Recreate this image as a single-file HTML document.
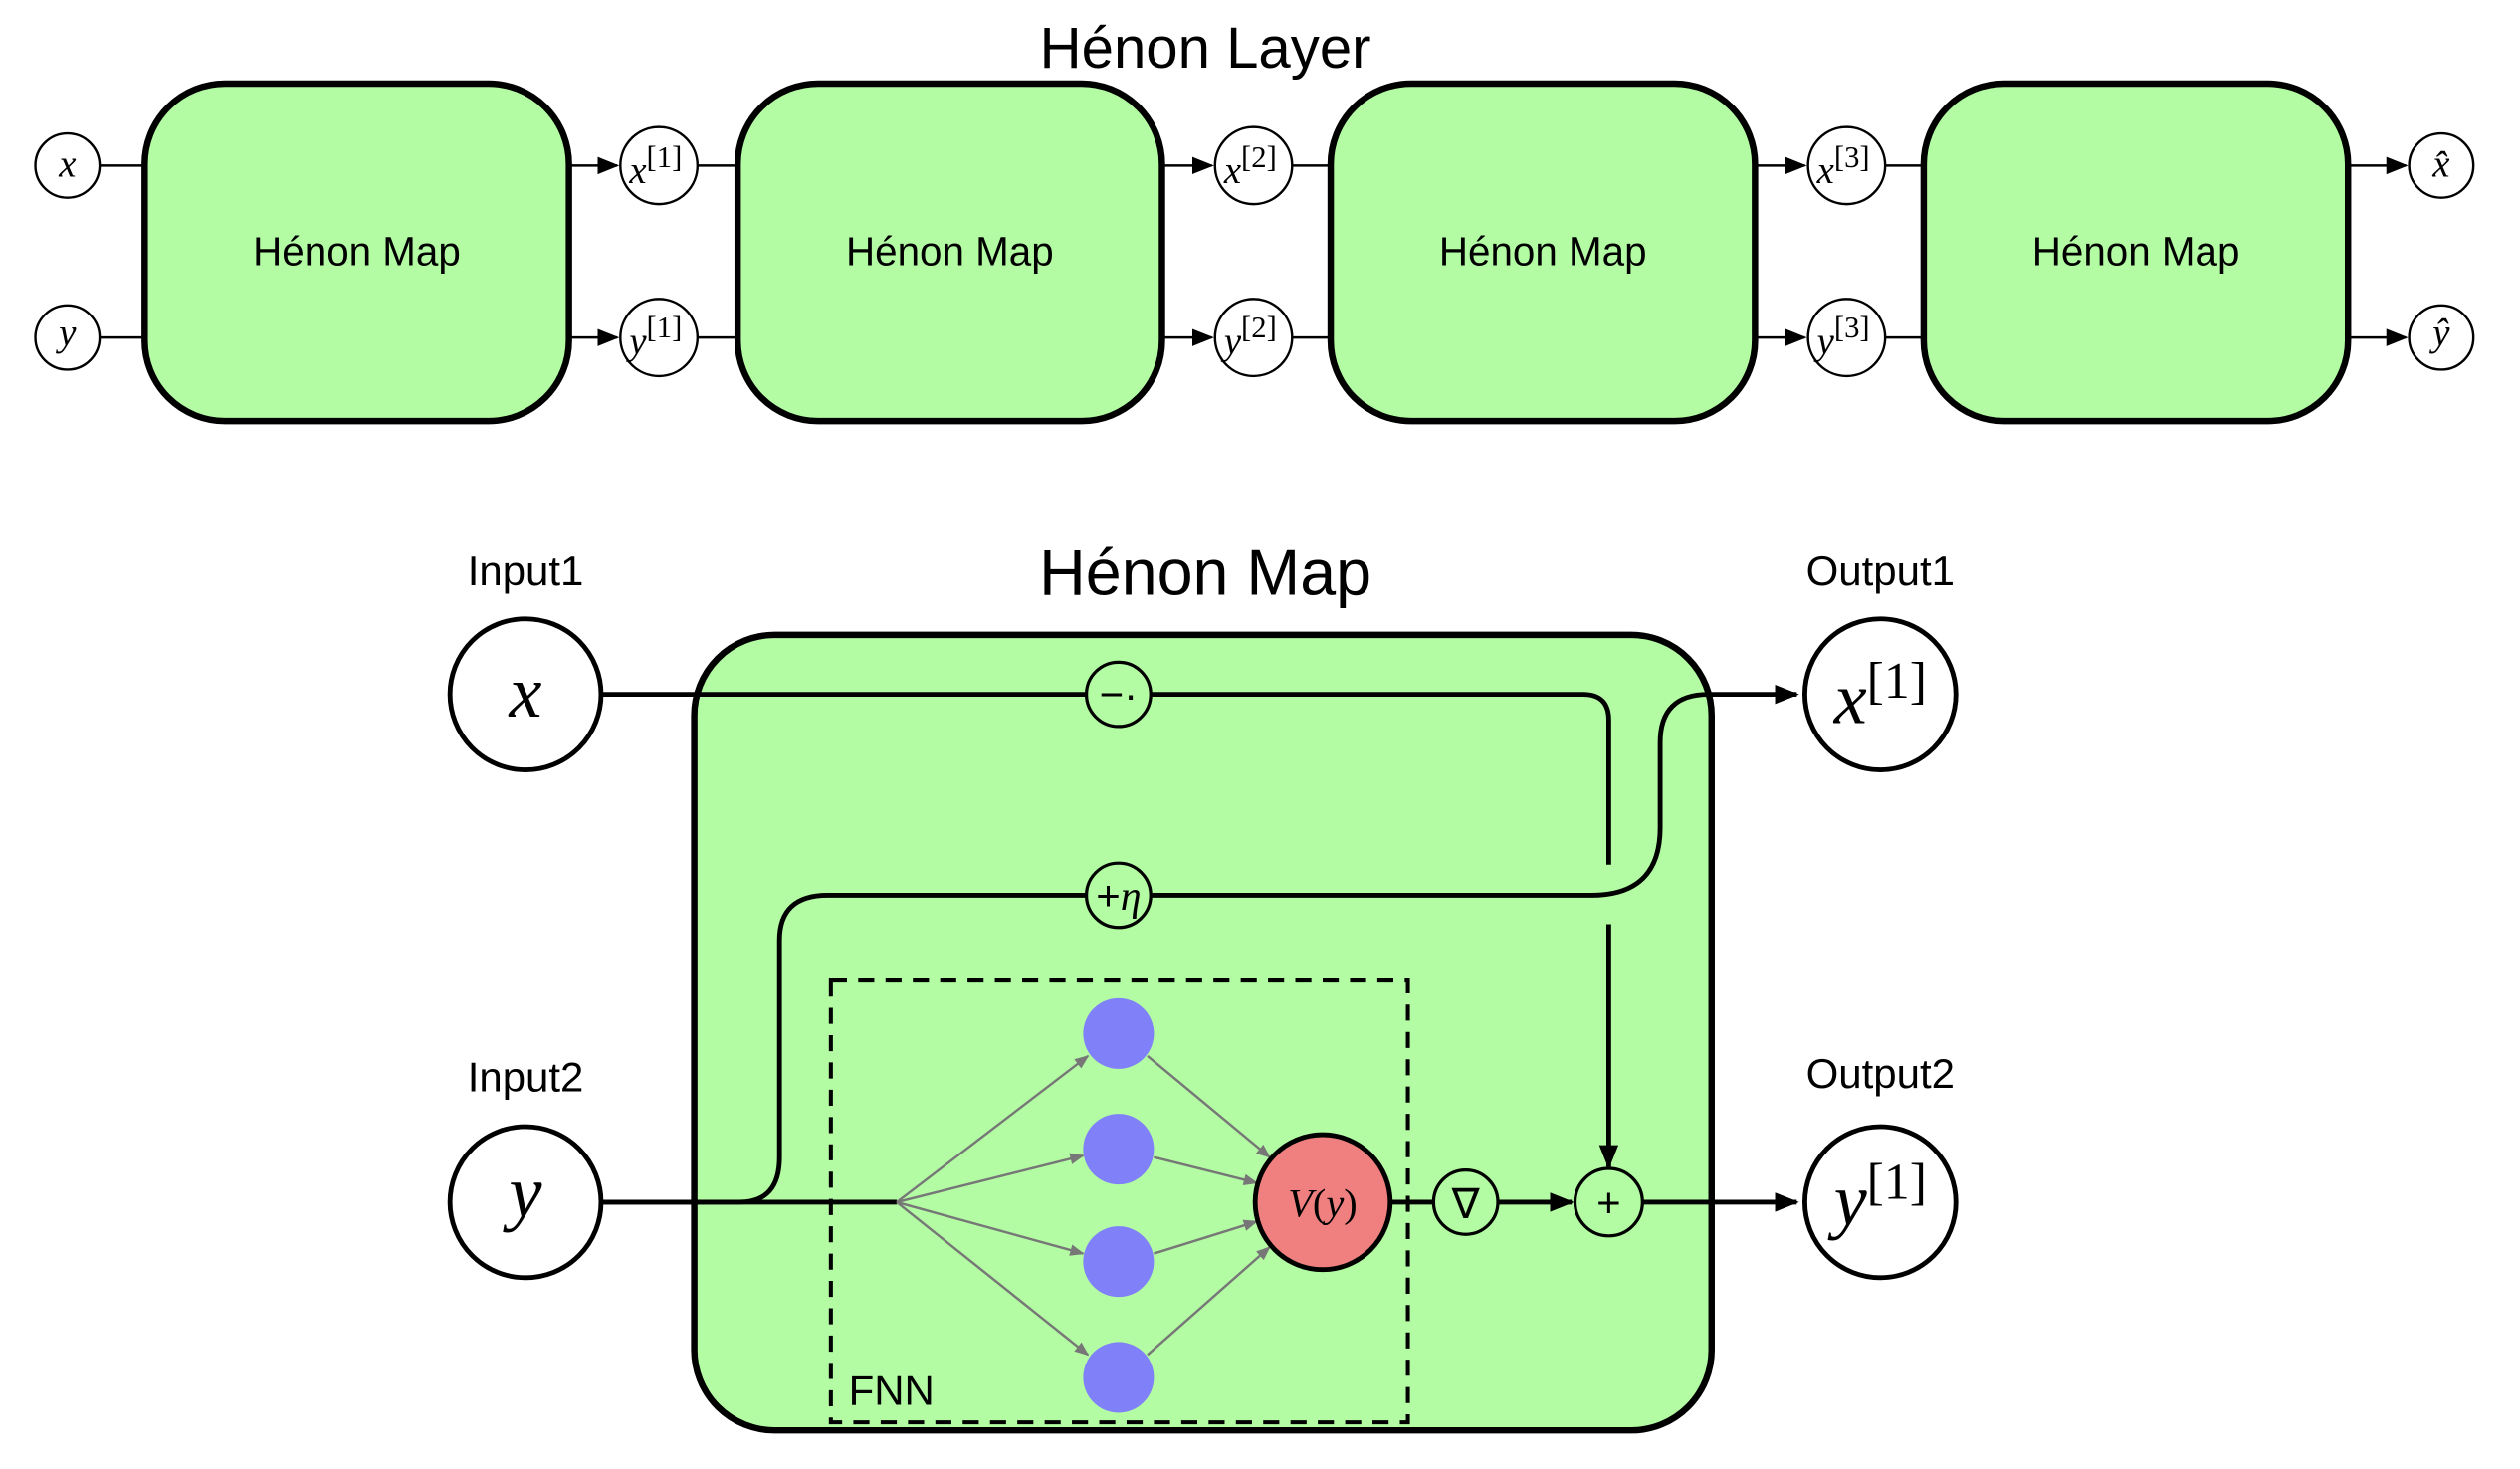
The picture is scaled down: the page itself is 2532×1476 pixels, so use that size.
<!DOCTYPE html>
<html><head><meta charset="utf-8"><style>
html,body{margin:0;padding:0;background:#fff}
svg{display:block}
text{font-family:"Liberation Sans",sans-serif}
.m{font-family:"Liberation Serif",serif;font-style:italic}
</style></head><body>
<svg width="2532" height="1476" viewBox="0 0 1568 914">
<defs>
<marker id="ar" viewBox="0 0 10 10" refX="9" refY="5" markerWidth="5" markerHeight="5" orient="auto"><path d="M0,1 L10,5 L0,9 z" fill="#000"/></marker>
<marker id="as" viewBox="0 0 10 10" refX="9" refY="5" markerWidth="9" markerHeight="9" orient="auto"><path d="M0,1 L10,5 L0,9 z" fill="#000"/></marker>
<marker id="ag" viewBox="0 0 10 10" refX="9" refY="5" markerWidth="6" markerHeight="6" orient="auto"><path d="M0,1 L10,5 L0,9 z" fill="#777"/></marker>
</defs>
<text x="750" y="42" font-size="36" text-anchor="middle">Hénon Layer</text>
<g stroke="#000" stroke-width="1.5" fill="none">
<line x1="62" y1="103" x2="90" y2="103"/><line x1="62" y1="210" x2="90" y2="210"/>
<line x1="354" y1="103" x2="384" y2="103" marker-end="url(#as)"/><line x1="354" y1="210" x2="384" y2="210" marker-end="url(#as)"/>
<line x1="434" y1="103" x2="459" y2="103"/><line x1="434" y1="210" x2="459" y2="210"/>
<line x1="723" y1="103" x2="754" y2="103" marker-end="url(#as)"/><line x1="723" y1="210" x2="754" y2="210" marker-end="url(#as)"/>
<line x1="804" y1="103" x2="828" y2="103"/><line x1="804" y1="210" x2="828" y2="210"/>
<line x1="1092" y1="103" x2="1123" y2="103" marker-end="url(#as)"/><line x1="1092" y1="210" x2="1123" y2="210" marker-end="url(#as)"/>
<line x1="1173" y1="103" x2="1197" y2="103"/><line x1="1173" y1="210" x2="1197" y2="210"/>
<line x1="1461" y1="103" x2="1497" y2="103" marker-end="url(#as)"/><line x1="1461" y1="210" x2="1497" y2="210" marker-end="url(#as)"/>
</g>
<g fill="#b3fca3" stroke="#000" stroke-width="4">
<rect x="90" y="52" width="264" height="210" rx="50"/>
<rect x="459" y="52" width="264" height="210" rx="50"/>
<rect x="828" y="52" width="264" height="210" rx="50"/>
<rect x="1197" y="52" width="264" height="210" rx="50"/>
</g>
<g font-size="25" text-anchor="middle">
<text x="222" y="165">Hénon Map</text><text x="591" y="165">Hénon Map</text><text x="960" y="165">Hénon Map</text><text x="1329" y="165">Hénon Map</text>
</g>
<g fill="#fff" stroke="#000" stroke-width="1.5">
<circle cx="42" cy="103" r="20"/><circle cx="42" cy="210" r="20"/>
<circle cx="410" cy="103" r="24"/><circle cx="410" cy="210" r="24"/>
<circle cx="780" cy="103" r="24"/><circle cx="780" cy="210" r="24"/>
<circle cx="1149" cy="103" r="24"/><circle cx="1149" cy="210" r="24"/>
<circle cx="1519" cy="103" r="20"/><circle cx="1519" cy="210" r="20"/>
</g>
<g font-size="24" text-anchor="middle">
<text x="42" y="110" class="m">x</text><text x="42" y="215" class="m">y</text>
<text x="408" y="114" class="m">x<tspan font-style="normal" font-size="19" dy="-10">[1]</tspan></text>
<text x="408" y="220" class="m">y<tspan font-style="normal" font-size="19" dy="-10">[1]</tspan></text>
<text x="778" y="114" class="m">x<tspan font-style="normal" font-size="19" dy="-10">[2]</tspan></text>
<text x="778" y="220" class="m">y<tspan font-style="normal" font-size="19" dy="-10">[2]</tspan></text>
<text x="1147" y="114" class="m">x<tspan font-style="normal" font-size="19" dy="-10">[3]</tspan></text>
<text x="1147" y="220" class="m">y<tspan font-style="normal" font-size="19" dy="-10">[3]</tspan></text>
<text x="1519" y="110" class="m">x̂</text><text x="1519" y="215" class="m">ŷ</text>
</g>

<text x="750" y="370" font-size="40" text-anchor="middle">Hénon Map</text>
<rect x="432" y="395" width="633" height="495" rx="50" fill="#b3fca3" stroke="#000" stroke-width="4"/>
<rect x="517" y="610" width="359" height="275" fill="none" stroke="#000" stroke-width="2.5" stroke-dasharray="10,7"/>
<text x="528" y="874" font-size="26">FNN</text>
<g font-size="26" text-anchor="middle">
<text x="327" y="364">Input1</text><text x="327" y="679">Input2</text>
<text x="1170" y="364">Output1</text><text x="1170" y="677">Output2</text>
</g>
<g stroke="#000" stroke-width="3" fill="none">
<path d="M374,432 H985 Q1001,432 1001,448 V538"/>
<path d="M1001,575 V726" marker-end="url(#ar)"/>
<path d="M374,748 H460 Q485,748 485,720 V585 Q485,557 515,557 H990 Q1033,557 1033,515 V462 Q1033,432 1063,432 H1118" marker-end="url(#ar)"/>
<path d="M374,748 H558"/>
<path d="M865,748 H892"/>
<path d="M932,748 H978" marker-end="url(#ar)"/>
<path d="M1022,748 H1118" marker-end="url(#ar)"/>
</g>
<g stroke="#777" stroke-width="1.5" fill="none">
<line x1="558" y1="748" x2="677" y2="657" marker-end="url(#ag)"/>
<line x1="558" y1="748" x2="674" y2="719" marker-end="url(#ag)"/>
<line x1="558" y1="748" x2="674" y2="780" marker-end="url(#ag)"/>
<line x1="558" y1="748" x2="677" y2="843" marker-end="url(#ag)"/>
<line x1="714" y1="657" x2="790" y2="720" marker-end="url(#ag)"/>
<line x1="718" y1="720" x2="782" y2="736" marker-end="url(#ag)"/>
<line x1="718" y1="780" x2="782" y2="760" marker-end="url(#ag)"/>
<line x1="714" y1="843" x2="790" y2="776" marker-end="url(#ag)"/>
</g>
<g fill="#8080f8">
<circle cx="696" cy="643" r="22"/>
<circle cx="696" cy="715" r="22"/>
<circle cx="696" cy="785" r="22"/>
<circle cx="696" cy="857" r="22"/>
</g>
<circle cx="823" cy="748" r="42" fill="#f08080" stroke="#000" stroke-width="3"/>
<text x="823" y="757" font-size="25" text-anchor="middle" class="m">V<tspan font-style="normal">(</tspan>y<tspan font-style="normal">)</tspan></text>
<g fill="#b3fca3" stroke="#000" stroke-width="2">
<circle cx="696" cy="432" r="20"/><circle cx="696" cy="557" r="20"/>
<circle cx="912" cy="748" r="20"/><circle cx="1001" cy="748" r="21"/>
</g>
<g font-size="26" text-anchor="middle">
<text x="696" y="441">−·</text>
<text x="696" y="566">+<tspan class="m">η</tspan></text>
<text x="912" y="758">∇</text>
<text x="1001" y="757">+</text>
</g>
<g fill="#fff" stroke="#000" stroke-width="3">
<circle cx="327" cy="432" r="47"/>
<circle cx="327" cy="748" r="47"/>
<circle cx="1170" cy="432" r="47"/>
<circle cx="1170" cy="748" r="47"/>
</g>
<g font-size="46" text-anchor="middle">
<text x="327" y="446" class="m">x</text>
<text x="327" y="757" class="m">y</text>
<text x="1170" y="450" class="m">x<tspan font-style="normal" font-size="32" dy="-16">[1]</tspan></text>
<text x="1170" y="762" class="m">y<tspan font-style="normal" font-size="32" dy="-16">[1]</tspan></text>
</g>
</svg>
</body></html>
